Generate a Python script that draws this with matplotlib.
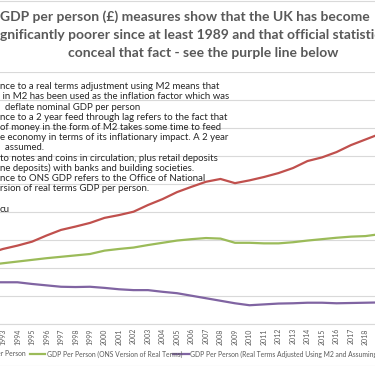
import matplotlib
matplotlib.use("Agg")
import matplotlib.pyplot as plt
from matplotlib.lines import Line2D

# data (1 unit = one gridline step)
years = list(range(1992, 2020))
red_nominal = [2.52, 2.68, 2.80, 2.94, 3.16, 3.36, 3.48, 3.61, 3.79, 3.89, 4.01, 4.25, 4.46, 4.71,
               4.90, 5.08, 5.18, 5.03, 5.13, 5.25, 5.39, 5.57, 5.82, 5.95, 6.14, 6.39, 6.59, 6.79]
green_ons = [2.11, 2.17, 2.23, 2.29, 2.35, 2.40, 2.45, 2.50, 2.62, 2.68, 2.73, 2.82, 2.90, 2.98,
             3.03, 3.07, 3.05, 2.90, 2.90, 2.88, 2.88, 2.92, 2.98, 3.03, 3.08, 3.12, 3.14, 3.21]
purple_m2 = [1.49, 1.49, 1.49, 1.43, 1.38, 1.33, 1.32, 1.33, 1.29, 1.24, 1.21, 1.21, 1.15, 1.10,
             1.01, 0.92, 0.83, 0.74, 0.67, 0.70, 0.73, 0.74, 0.76, 0.76, 0.74, 0.75, 0.76, 0.77]
tick_years = list(range(1993, 2019))

title_lines = [
    "GDP per person (£) measures show that the UK has become",
    "gnificantly poorer since at least 1989 and that official statistics",
    "conceal that fact - see the purple line below",
]
note_lines = [
    "nce to a real terms adjustment using M2 means that",
    " in M2 has been used as the inflation factor which was",
    "  deflate nominal GDP per person",
    "nce to a 2 year feed through lag refers to the fact that",
    "of money in the form of M2 takes some time to feed",
    "e economy in terms of its inflationary impact. A 2 year",
    "  assumed.",
    "to notes and coins in circulation, plus retail deposits",
    "ne deposits) with banks and building societies.",
    "nce to ONS GDP refers to the Office of National",
    "rsion of real terms GDP per person.",
    "",
    "cu",
]
legend_labels = [
    "GDP Per Person",
    "GDP Per Person (ONS Version of Real Terms)",
    "GDP Per Person (Real Terms Adjusted Using M2 and Assuming 2 Year Feed Through Lag)",
]

RED, GREEN, PURPLE = "#C0504D", "#9BBB59", "#8064A2"
GREY = "#595959"
W, H = 375, 366
plt.rcParams['font.family'] = ['Lato', 'DejaVu Sans']


def fx(x):
    return x / W


def fy(y):
    return 1 - y / H


fig = plt.figure(figsize=(W / 100, H / 100), dpi=100)
fig.patch.set_facecolor("white")
ax = fig.add_axes([0, fy(324), 1, 252 / H])

ax.plot(years, red_nominal, color=RED, lw=1.6, zorder=3)
ax.plot(years, green_ons, color=GREEN, lw=1.6, zorder=3)
ax.plot(years, purple_m2, color=PURPLE, lw=1.6, zorder=3)

ax.set_yticks(range(0, 10))
ax.yaxis.grid(True, color="#D9D9D9", lw=0.8)
ax.set_axisbelow(True)
ax.tick_params(axis="y", length=0, labelleft=False)
ax.set_xticks(tick_years)
ax.set_xticklabels([str(y) for y in tick_years], rotation=90, fontsize=5.0, color=GREY)
ax.tick_params(axis="x", length=0, pad=3)
# 1993 sits 3 px in, one year = 14.5 px
ax.set_xlim(1993 - 3 / 14.5, 1993 + 372 / 14.5)
ax.set_ylim(0, 9)
for s in ["top", "left", "right"]:
    ax.spines[s].set_visible(False)
ax.spines["bottom"].set_color("#D9D9D9")
ax.spines["bottom"].set_linewidth(0.8)

# title (cropped on both sides like the original)
fig.text(fx(0.5), fy(16.5), title_lines[0], ha="left", va="center", fontsize=10.0,
         fontweight="bold", color=GREY)
fig.text(fx(0), fy(35), title_lines[1], ha="left", va="center", fontsize=10.0,
         fontweight="bold", color=GREY)
fig.text(fx(203.5), fy(53), title_lines[2], ha="center", va="center", fontsize=10.0,
         fontweight="bold", color=GREY)

# notes text box
for i, line in enumerate(note_lines):
    fig.text(fx(0), fy(86.7 + i * 10.2), line, ha="left", va="center", fontsize=6.9,
             color="#262626")

# legend along the bottom
ly = fy(354)
fig.text(fx(26), ly, legend_labels[0], ha="right", va="center", fontsize=4.9, color=GREY)
fig.add_artist(Line2D([fx(30), fx(45)], [ly, ly], color=GREEN, lw=1.6))
fig.text(fx(47), ly, legend_labels[1], ha="left", va="center", fontsize=4.9, color=GREY)
fig.add_artist(Line2D([fx(173), fx(189)], [ly, ly], color=PURPLE, lw=1.6))
fig.text(fx(190), ly, legend_labels[2], ha="left", va="center", fontsize=4.9, color=GREY)

# chart border remnants
fig.add_artist(Line2D([0, 1], [fy(0.5), fy(0.5)], color="#D9D9D9", lw=0.8))
fig.add_artist(Line2D([0, 1], [fy(365.5), fy(365.5)], color="#D9D9D9", lw=0.8))

fig.savefig("out.png", dpi=100, facecolor="white")
